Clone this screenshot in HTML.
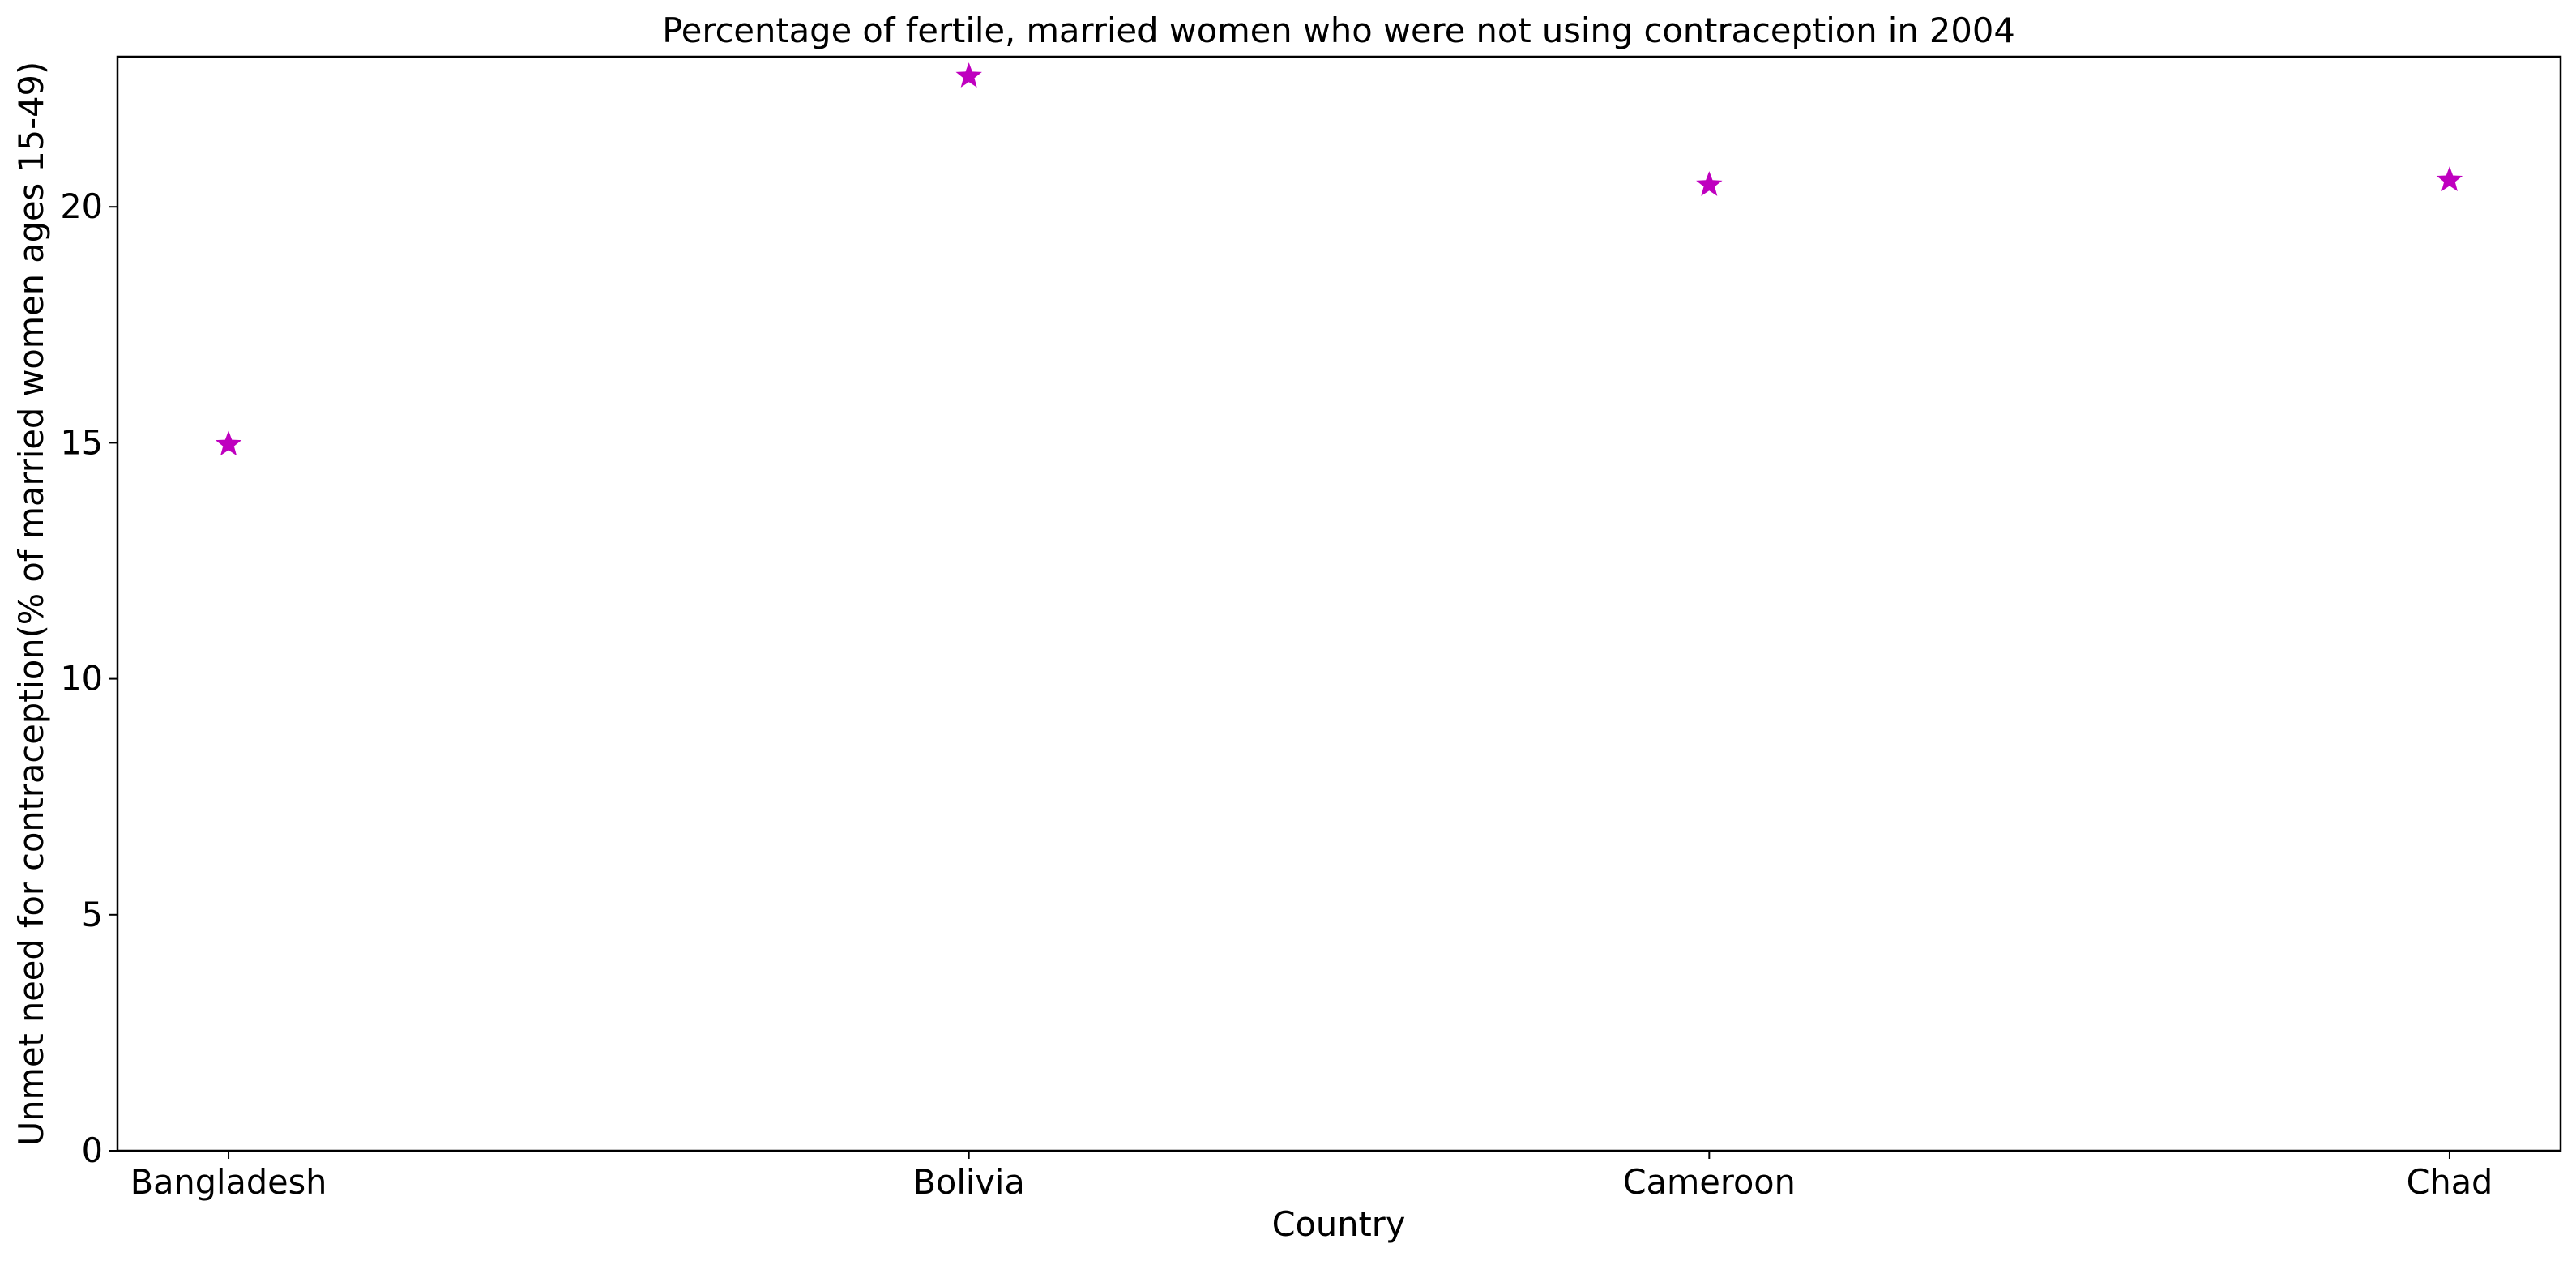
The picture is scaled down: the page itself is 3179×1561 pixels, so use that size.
<!DOCTYPE html>
<html><head><meta charset="utf-8">
<style>
html,body{margin:0;padding:0;background:#fff;}
svg text{font-family:"DejaVu Sans","Liberation Sans",sans-serif;fill:#000;}
</style></head>
<body>
<svg id="chart" width="3179" height="1556" viewBox="0 0 3179 1556" xmlns="http://www.w3.org/2000/svg">
<rect width="3179" height="1556" fill="#fff"/>
<text x="1652" y="52" font-size="41.6" text-anchor="middle">Percentage of fertile, married women who were not using contraception in 2004</text>
<g id="yticks"></g>
<g id="xticks"></g>
<g id="marks"></g>
<rect x="145" y="70" width="3015" height="1350" fill="none" stroke="#000" stroke-width="2.5"/>
<text x="1652" y="1525" font-size="41.5" text-anchor="middle">Country</text>
<text transform="translate(53,745) rotate(-90)" font-size="41.5" text-anchor="middle">Unmet need for contraception(% of married women ages 15-49)</text>
</svg>
<script>
const categories = ["Bangladesh","Bolivia","Cameroon","Chad"];
const values = [15.0, 22.8, 20.5, 20.6];
const yTicks = [0,5,10,15,20];

const L=145,R=3160,T=70,B=1420;
const xMin=-0.15,xMax=3.15,yMin=0,yMax=23.18;
const NS="http://www.w3.org/2000/svg";
function xs(i){return L+(i-xMin)/(xMax-xMin)*(R-L);}
function ys(v){return B-(v-yMin)/(yMax-yMin)*(B-T);}
function mk(tag,attrs){const e=document.createElementNS(NS,tag);for(const k in attrs)e.setAttribute(k,attrs[k]);return e;}

const yg=document.getElementById('yticks');
yTicks.forEach(t=>{
  const y=ys(t);
  const ln=mk('line',{x1:L-10,x2:L,y1:y,y2:y,stroke:'#000','stroke-width':2});
  
  
  yg.appendChild(ln);
  const tx=mk('text',{x:L-18,y:y+14,'font-size':41.4,'text-anchor':'end'});
  tx.textContent=t;
  
  
  yg.appendChild(tx);
});

const xg=document.getElementById('xticks');
categories.forEach((c,i)=>{
  const x=xs(i);
  const ln=mk('line',{x1:x,x2:x,y1:B,y2:B+10,stroke:'#000','stroke-width':2});
  
  
  xg.appendChild(ln);
  const tx=mk('text',{x:x,y:B+53,'font-size':41.4,'text-anchor':'middle'});
  tx.textContent=c;
  
  
  xg.appendChild(tx);
});

function starPath(cx,cy,r){
  let d='';const ri=r*0.42;
  for(let k=0;k<10;k++){
    const a=-Math.PI/2+k*Math.PI/5;const rr=k%2?ri:r;
    d+=(k?'L':'M')+(cx+rr*Math.cos(a)).toFixed(2)+','+(cy+rr*Math.sin(a)).toFixed(2);
  }
  return d+'Z';
}
const mg=document.getElementById('marks');
values.forEach((v,i)=>{
  const p=mk('path',{d:starPath(xs(i),ys(v)+2,17),fill:'#bf00bf'});
  
  
  mg.appendChild(p);
});
</script>
</body></html>
